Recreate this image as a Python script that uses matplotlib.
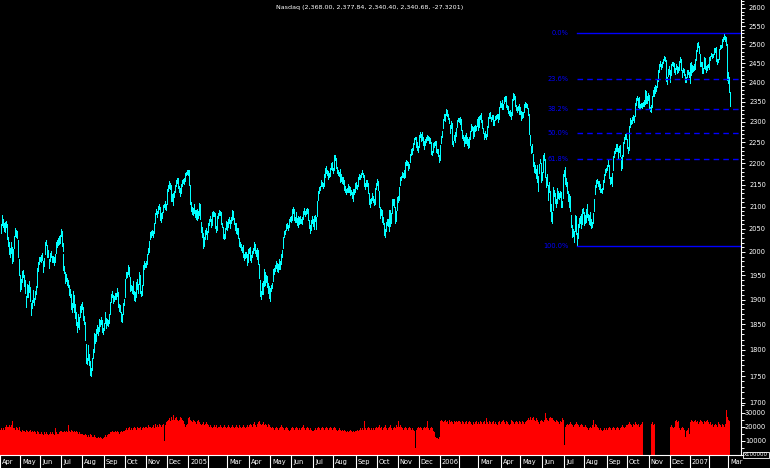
import matplotlib
matplotlib.use("Agg")
import matplotlib.pyplot as plt
import numpy as np
from matplotlib.ticker import FixedLocator, FuncFormatter, NullFormatter

plt.rcParams['font.family'] = ['DejaVu Sans']

title = "Nasdaq (2,368.00, 2,377.84, 2,340.40, 2,340.68, -27.3201)"

# one label per month of trading days (Feb is left blank next to the year)
month_labels = ['Apr', 'May', 'Jun', 'Jul', 'Aug', 'Sep', 'Oct', 'Nov', 'Dec',
                '2005', '', 'Mar', 'Apr', 'May', 'Jun', 'Jul', 'Aug', 'Sep', 'Oct', 'Nov', 'Dec',
                '2006', '', 'Mar', 'Apr', 'May', 'Jun', 'Jul', 'Aug', 'Sep', 'Oct', 'Nov', 'Dec',
                '2007', '', 'Mar']
month_lengths = [20, 20, 21, 21, 22, 21, 21, 21, 22,
                 20, 19, 22, 21, 21, 22, 20, 23, 21, 21, 21, 21,
                 20, 19, 23, 19, 22, 22, 20, 23, 20, 22, 21, 20,
                 20, 19, 2]

# daily (low, high), Apr 2004 .. Mar 2007
daily_range = [
    # Apr 2004
    (2040, 2060), (2058, 2081), (2054, 2072), (2046, 2062), (2044, 2066), (2055, 2068), (2028, 2060),
    (2012, 2032), (1996, 2022), (1988, 2008), (1998, 2022), (1977, 2010), (1980, 2006), (2008, 2035),
    (2034, 2053), (2033, 2048), (2030, 2045), (1988, 2025), (1950, 1985), (1918, 1950),
    # May
    (1922, 1942), (1936, 1960), (1946, 1962), (1928, 1950), (1914, 1940), (1885, 1908), (1905, 1933),
    (1905, 1930), (1915, 1938), (1898, 1925), (1868, 1892), (1882, 1900), (1895, 1920), (1888, 1903),
    (1902, 1918), (1912, 1928), (1925, 1965), (1960, 1978), (1975, 1990), (1980, 1990),
    # Jun
    (1978, 1993), (1982, 1998), (1958, 1980), (1970, 1986), (1995, 2022), (2014, 2026), (1988, 2015),
    (1990, 2004), (1966, 1985), (1980, 1998), (1990, 2002), (1978, 1992), (1978, 1992), (1972, 1990),
    (1978, 1996), (1998, 2022), (2010, 2025), (2015, 2030), (2016, 2035), (2020, 2037), (2035, 2050),
    # Jul
    (2012, 2045), (2002, 2020), (1962, 1995), (1955, 1970), (1934, 1958), (1938, 1952), (1930, 1944),
    (1926, 1940), (1910, 1930), (1906, 1922), (1881, 1912), (1875, 1892), (1885, 1918), (1874, 1910),
    (1862, 1890), (1848, 1875), (1835, 1855), (1845, 1870), (1840, 1865), (1865, 1886), (1874, 1890),
    # Aug
    (1880, 1895), (1858, 1884), (1850, 1866), (1820, 1855), (1775, 1812), (1772, 1784), (1780, 1809),
    (1770, 1792), (1751, 1778), (1750, 1765), (1762, 1784), (1785, 1802), (1795, 1832), (1814, 1830),
    (1818, 1840), (1832, 1848), (1828, 1845), (1836, 1861), (1847, 1858), (1850, 1864), (1835, 1858),
    (1830, 1843),
    # Sep
    (1838, 1853), (1852, 1874), (1842, 1862), (1848, 1860), (1846, 1858), (1852, 1870), (1870, 1895),
    (1896, 1912), (1905, 1917), (1894, 1910), (1898, 1908), (1902, 1913), (1902, 1914), (1908, 1924),
    (1884, 1915), (1876, 1890), (1874, 1888), (1857, 1875), (1854, 1870), (1870, 1894), (1888, 1902),
    # Oct
    (1905, 1943), (1944, 1958), (1946, 1957), (1954, 1972), (1948, 1968), (1918, 1946), (1920, 1930),
    (1914, 1928), (1912, 1938), (1900, 1918), (1898, 1916), (1905, 1937), (1921, 1942), (1914, 1933),
    (1932, 1958), (1914, 1950), (1907, 1918), (1910, 1930), (1930, 1971), (1964, 1980), (1968, 1977),
    # Nov
    (1968, 1981), (1975, 1995), (1995, 2008), (2000, 2024), (2028, 2043), (2033, 2045), (2036, 2048),
    (2033, 2046), (2042, 2062), (2062, 2086), (2083, 2095), (2077, 2090), (2085, 2101), (2094, 2105),
    (2069, 2100), (2066, 2086), (2075, 2088), (2088, 2103), (2098, 2105), (2094, 2112), (2093, 2106),
    # Dec
    (2105, 2139), (2135, 2150), (2142, 2158), (2140, 2153), (2113, 2150), (2112, 2128), (2104, 2130),
    (2122, 2136), (2132, 2150), (2148, 2161), (2154, 2165), (2143, 2165), (2134, 2148), (2124, 2142),
    (2130, 2151), (2148, 2160), (2154, 2162), (2152, 2166), (2158, 2178), (2172, 2180), (2174, 2184),
    (2173, 2184),
    # Jan 2005
    (2150, 2185), (2105, 2150), (2090, 2110), (2084, 2098), (2082, 2096), (2085, 2106), (2077, 2093),
    (2072, 2093), (2069, 2095), (2074, 2089), (2080, 2107), (2072, 2105), (2044, 2066), (2033, 2055),
    (2008, 2040), (2013, 2032), (2028, 2047), (2038, 2051), (2028, 2046), (2044, 2063),
    # Feb
    (2058, 2071), (2068, 2079), (2054, 2073), (2058, 2087), (2079, 2090), (2078, 2088), (2052, 2086),
    (2043, 2057), (2048, 2078), (2074, 2085), (2080, 2092), (2082, 2091), (2060, 2087), (2054, 2064),
    (2030, 2055), (2027, 2038), (2030, 2052), (2050, 2067), (2048, 2066),
    # Mar
    (2054, 2073), (2062, 2076), (2052, 2070), (2062, 2076), (2070, 2092), (2072, 2090), (2060, 2074),
    (2048, 2062), (2040, 2062), (2038, 2053), (2029, 2052), (2012, 2030), (2010, 2021), (2003, 2018),
    (2000, 2011), (1988, 2015), (1982, 1996), (1987, 2000), (1988, 2000), (1972, 1996), (1978, 2007),
    (1997, 2008),
    # Apr
    (1982, 2010), (1978, 1994), (1990, 2001), (1998, 2008), (2003, 2021), (1998, 2018), (1992, 2003),
    (1984, 2009), (1974, 2005), (1945, 1975), (1907, 1940), (1902, 1918), (1912, 1935), (1911, 1938),
    (1928, 1963), (1930, 1958), (1937, 1951), (1926, 1948), (1914, 1934), (1903, 1928), (1898, 1923),
    # May
    (1918, 1931), (1923, 1935), (1938, 1963), (1954, 1966), (1960, 1973), (1965, 1981), (1960, 1976),
    (1958, 1974), (1964, 1985), (1963, 1980), (1975, 1995), (1988, 2005), (2008, 2032), (2032, 2045),
    (2038, 2048), (2047, 2060), (2052, 2063), (2047, 2058), (2055, 2073), (2068, 2077), (2066, 2078),
    # Jun
    (2070, 2095), (2085, 2098), (2070, 2094), (2066, 2077), (2066, 2088), (2058, 2075), (2055, 2078),
    (2060, 2076), (2062, 2078), (2062, 2072), (2060, 2077), (2073, 2090), (2084, 2096), (2079, 2091),
    (2084, 2095), (2086, 2096), (2070, 2095), (2052, 2070), (2042, 2058), (2048, 2070), (2064, 2078),
    (2056, 2073),
    # Jul
    (2050, 2063), (2053, 2079), (2067, 2080), (2050, 2076), (2078, 2113), (2114, 2136), (2130, 2145),
    (2138, 2148), (2146, 2160), (2147, 2157), (2142, 2154), (2148, 2174), (2168, 2189), (2177, 2193),
    (2172, 2184), (2164, 2182), (2167, 2178), (2170, 2189), (2187, 2200), (2183, 2203),
    # Aug
    (2177, 2190), (2185, 2219), (2208, 2220), (2190, 2212), (2176, 2192), (2172, 2183), (2170, 2180),
    (2156, 2186), (2158, 2175), (2153, 2168), (2152, 2168), (2137, 2160), (2134, 2146), (2128, 2139),
    (2132, 2143), (2134, 2152), (2134, 2146), (2127, 2144), (2128, 2137), (2119, 2134), (2113, 2139),
    (2128, 2141), (2133, 2153),
    # Sep
    (2142, 2156), (2139, 2150), (2148, 2167), (2162, 2174), (2162, 2172), (2168, 2177), (2175, 2185),
    (2167, 2178), (2148, 2172), (2140, 2153), (2148, 2161), (2147, 2160), (2130, 2154), (2105, 2130),
    (2100, 2118), (2107, 2119), (2114, 2130), (2110, 2123), (2103, 2118), (2105, 2142), (2140, 2153),
    # Oct
    (2150, 2164), (2138, 2158), (2099, 2135), (2075, 2100), (2082, 2095), (2066, 2092), (2060, 2076),
    (2036, 2064), (2033, 2049), (2045, 2065), (2058, 2072), (2056, 2073), (2045, 2092), (2056, 2092),
    (2063, 2086), (2085, 2117), (2104, 2116), (2100, 2118), (2063, 2100), (2068, 2090), (2093, 2122),
    # Nov
    (2110, 2123), (2115, 2145), (2150, 2168), (2160, 2171), (2168, 2179), (2167, 2176), (2165, 2183),
    (2168, 2202), (2197, 2208), (2196, 2206), (2185, 2204), (2188, 2199), (2203, 2221), (2220, 2233),
    (2223, 2236), (2232, 2248), (2245, 2260), (2257, 2264), (2239, 2262), (2231, 2252), (2227, 2242),
    # Dec
    (2240, 2269), (2264, 2275), (2254, 2270), (2256, 2275), (2243, 2262), (2235, 2254), (2244, 2257),
    (2252, 2264), (2255, 2268), (2255, 2266), (2248, 2263), (2249, 2260), (2221, 2252), (2220, 2230),
    (2228, 2248), (2239, 2251), (2244, 2253), (2226, 2253), (2224, 2234), (2217, 2233), (2204, 2220),
    # Jan 2006
    (2208, 2244), (2248, 2265), (2262, 2277), (2285, 2307), (2305, 2320), (2303, 2321), (2318, 2332),
    (2314, 2330), (2308, 2320), (2298, 2310), (2272, 2292), (2285, 2303), (2247, 2298), (2242, 2254),
    (2255, 2267), (2251, 2275), (2265, 2286), (2288, 2305), (2302, 2310), (2300, 2310),
    # Feb
    (2295, 2313), (2280, 2308), (2260, 2280), (2255, 2268), (2242, 2262), (2248, 2267), (2249, 2272),
    (2243, 2262), (2237, 2258), (2240, 2263), (2258, 2277), (2278, 2295), (2280, 2290), (2260, 2287),
    (2265, 2291), (2277, 2292), (2279, 2289), (2290, 2308), (2280, 2312),
    # Mar
    (2288, 2315), (2307, 2318), (2300, 2322), (2285, 2305), (2272, 2286), (2259, 2273), (2262, 2278),
    (2258, 2270), (2265, 2290), (2288, 2312), (2310, 2323), (2309, 2325), (2302, 2313), (2307, 2317),
    (2292, 2318), (2292, 2305), (2304, 2316), (2308, 2317), (2309, 2319), (2300, 2320), (2308, 2338),
    (2338, 2352), (2337, 2348),
    # Apr
    (2333, 2355), (2333, 2346), (2347, 2362), (2353, 2366), (2337, 2365), (2332, 2343), (2323, 2340),
    (2317, 2328), (2315, 2330), (2308, 2325), (2318, 2357), (2355, 2373), (2357, 2370), (2340, 2365),
    (2330, 2343), (2325, 2338), (2329, 2340), (2320, 2346), (2321, 2338),
    # May
    (2304, 2327), (2310, 2324), (2312, 2326), (2325, 2345), (2337, 2350), (2338, 2348), (2334, 2345),
    (2318, 2336), (2271, 2320), (2243, 2268), (2225, 2242), (2227, 2245), (2194, 2222), (2180, 2202),
    (2178, 2196), (2165, 2186), (2157, 2195), (2135, 2171), (2178, 2199), (2200, 2211), (2157, 2200),
    (2160, 2180),
    # Jun
    (2180, 2220), (2208, 2225), (2168, 2210), (2145, 2167), (2150, 2175), (2115, 2150), (2134, 2157),
    (2091, 2135), (2068, 2105), (2063, 2087), (2093, 2145), (2125, 2138), (2109, 2130), (2100, 2117),
    (2108, 2143), (2120, 2135), (2117, 2130), (2122, 2135), (2099, 2132), (2098, 2112), (2120, 2175),
    (2170, 2185),
    # Jul
    (2175, 2191), (2152, 2175), (2148, 2165), (2130, 2155), (2113, 2136), (2098, 2129), (2089, 2125),
    (2054, 2080), (2033, 2058), (2035, 2049), (2022, 2046), (2045, 2081), (2039, 2078), (2013, 2042),
    (2030, 2061), (2055, 2075), (2062, 2078), (2053, 2084), (2060, 2094), (2085, 2097),
    # Aug
    (2058, 2088), (2062, 2080), (2066, 2094), (2076, 2105), (2070, 2083), (2060, 2080), (2059, 2088),
    (2053, 2073), (2054, 2066), (2064, 2086), (2090, 2116), (2128, 2150), (2145, 2160), (2153, 2164),
    (2146, 2158), (2140, 2158), (2132, 2152), (2132, 2141), (2131, 2143), (2140, 2161), (2155, 2174),
    (2172, 2187), (2180, 2189),
    # Sep
    (2184, 2195), (2193, 2207), (2166, 2196), (2152, 2167), (2154, 2167), (2146, 2176), (2185, 2217),
    (2215, 2229), (2225, 2237), (2230, 2246), (2230, 2245), (2213, 2236), (2228, 2242), (2217, 2244),
    (2183, 2215), (2188, 2219), (2218, 2250), (2248, 2263), (2258, 2271), (2257, 2273),
    # Oct
    (2236, 2258), (2224, 2240), (2232, 2291), (2288, 2310), (2296, 2305), (2298, 2313), (2305, 2317),
    (2299, 2316), (2315, 2347), (2343, 2359), (2354, 2365), (2338, 2360), (2333, 2362), (2333, 2345),
    (2337, 2348), (2335, 2348), (2339, 2349), (2341, 2354), (2346, 2380), (2348, 2378), (2348, 2366),
    (2355, 2372),
    # Nov
    (2332, 2368), (2328, 2338), (2325, 2342), (2338, 2366), (2364, 2380), (2365, 2388), (2374, 2392),
    (2378, 2391), (2388, 2407), (2403, 2431), (2428, 2448), (2442, 2456), (2435, 2449), (2440, 2454),
    (2450, 2461), (2458, 2468), (2456, 2466), (2404, 2458), (2395, 2414), (2416, 2434), (2423, 2442),
    # Dec
    (2400, 2432), (2420, 2449), (2444, 2454), (2442, 2452), (2426, 2450), (2422, 2438), (2435, 2448),
    (2424, 2443), (2427, 2440), (2433, 2457), (2452, 2467), (2432, 2460), (2415, 2433), (2427, 2438),
    (2420, 2434), (2400, 2422), (2400, 2414), (2414, 2432), (2423, 2431), (2415, 2428),
    # Jan 2007
    (2398, 2450), (2420, 2454), (2428, 2444), (2430, 2442), (2432, 2448), (2435, 2460), (2458, 2485),
    (2482, 2503), (2494, 2506), (2478, 2495), (2442, 2474), (2442, 2454), (2424, 2454), (2424, 2438),
    (2438, 2467), (2434, 2465), (2428, 2443), (2432, 2445), (2440, 2449), (2436, 2466),
    # Feb
    (2458, 2469), (2468, 2477), (2465, 2475), (2466, 2474), (2474, 2491), (2479, 2490), (2457, 2494),
    (2448, 2460), (2452, 2461), (2460, 2489), (2488, 2499), (2490, 2499), (2494, 2515), (2510, 2521),
    (2514, 2531), (2510, 2523), (2498, 2520), (2405, 2500), (2398, 2428),
    # Mar
    (2375, 2413), (2340, 2376),
]

# daily volume in thousands of chart units (chart units are x100000 shares)
volume_k = [
    18, 19, 18, 19, 18, 20, 21, 20, 20, 21, 20, 21, 24, 19, 19, 18, 20, 19, 18, 20,
    17, 16, 18, 17, 17, 16, 18, 17, 16, 17, 18, 16, 17, 16, 17, 16, 15, 17, 16, 15,
    15, 16, 15, 14, 16, 15, 16, 15, 14, 15, 16, 15, 16, 15, 14, 19, 16, 15, 15, 16, 17,
    17, 16, 16, 17, 16, 17, 16, 21, 17, 16, 18, 17, 16, 17, 16, 17, 16, 15, 16, 15, 15,
    15, 14, 14, 15, 14, 13, 14, 13, 15, 14, 13, 13, 14, 13, 12, 12, 13, 12, 13, 12, 11, 12,
    13, 14, 13, 14, 15, 15, 16, 16, 17, 16, 16, 17, 16, 17, 16, 15, 16, 17, 16, 17, 17,
    18, 19, 18, 19, 20, 18, 19, 18, 19, 20, 19, 18, 20, 19, 19, 20, 18, 19, 20, 19, 20,
    20, 19, 21, 20, 20, 19, 20, 21, 19, 22, 20, 21, 20, 22, 21, 20, 21, 22, 10, 21, 23,
    24, 25, 26, 24, 27, 25, 28, 25, 26, 27, 25, 24, 25, 27, 26, 25, 24, 22, 20, 21, 22, 20,
    26, 27, 25, 24, 23, 25, 24, 23, 22, 24, 25, 23, 22, 21, 22, 23, 21, 22, 23, 22,
    21, 20, 21, 20, 19, 20, 21, 20, 21, 19, 20, 20, 21, 20, 19, 20, 21, 20, 19,
    20, 21, 20, 19, 20, 21, 20, 19, 20, 21, 20, 19, 21, 20, 19, 20, 21, 20, 19, 20, 21, 20,
    21, 22, 21, 20, 22, 23, 21, 20, 22, 23, 24, 22, 21, 22, 23, 21, 22, 21, 20, 22, 21,
    20, 19, 20, 19, 18, 19, 20, 19, 18, 19, 20, 21, 20, 19, 18, 19, 20, 19, 18, 17, 18,
    19, 20, 19, 18, 19, 20, 19, 18, 19, 18, 19, 20, 21, 19, 18, 19, 20, 19, 18, 19, 18, 17,
    17, 18, 19, 18, 19, 20, 19, 18, 19, 20, 19, 18, 19, 20, 19, 18, 19, 20, 19, 18,
    19, 20, 19, 18, 17, 18, 19, 18, 17, 18, 17, 18, 17, 16, 17, 16, 17, 18, 17, 16, 17, 16, 17,
    17, 18, 17, 18, 19, 18, 19, 18, 24, 19, 18, 19, 20, 19, 18, 19, 18, 19, 18, 19, 20,
    19, 20, 21, 19, 20, 18, 19, 20, 21, 19, 18, 19, 20, 21, 19, 18, 19, 20, 19, 21, 20,
    24, 20, 21, 20, 19, 18, 19, 20, 19, 18, 19, 20, 19, 18, 19, 18, 17, 5, 18, 19, 20,
    19, 20, 19, 18, 19, 20, 19, 20, 24, 19, 18, 19, 20, 19, 17, 16, 13, 12, 12, 11, 13,
    22, 24, 25, 24, 23, 24, 25, 23, 24, 22, 25, 23, 24, 23, 22, 24, 23, 24, 23, 24,
    24, 23, 22, 24, 23, 22, 23, 24, 22, 23, 24, 23, 22, 21, 23, 22, 23, 24, 22,
    23, 22, 24, 23, 22, 23, 24, 22, 26, 23, 22, 24, 23, 22, 23, 24, 22, 23, 22, 21, 23, 24, 22,
    23, 24, 25, 23, 22, 24, 23, 22, 21, 22, 25, 24, 23, 22, 23, 24, 23, 22, 24,
    23, 22, 24, 23, 22, 23, 24, 25, 26, 25, 27, 25, 26, 27, 25, 24, 26, 25, 23, 22, 24, 25,
    24, 23, 25, 30, 26, 25, 24, 26, 27, 26, 26, 25, 24, 23, 25, 24, 23, 22, 24, 23, 26, 25,
    7, 20, 21, 22, 21, 22, 23, 22, 21, 20, 21, 22, 23, 22, 21, 20, 21, 22, 21, 20,
    20, 21, 20, 19, 18, 19, 20, 19, 21, 25, 20, 22, 21, 20, 19, 18, 19, 18, 17, 18, 19, 18, 19,
    18, 19, 20, 19, 18, 19, 20, 19, 18, 19, 20, 19, 18, 19, 20, 21, 20, 19, 20, 21,
    21, 22, 23, 22, 21, 20, 22, 21, 23, 22, 21, 22, 20, 21, 22, 23, 0, 0, 0, 0, 0, 0,
    0, 0, 22, 23, 21, 22, 0, 0, 0, 0, 0, 0, 0, 0, 0, 0, 0, 0, 0, 0, 0,
    20, 21, 20, 19, 20, 24, 25, 23, 24, 19, 18, 19, 20, 19, 18, 13, 17, 18, 19, 15,
    23, 24, 25, 24, 23, 24, 25, 23, 24, 22, 23, 25, 24, 23, 22, 24, 23, 24, 25, 23,
    22, 23, 21, 22, 20, 21, 22, 21, 20, 23, 22, 21, 20, 22, 21, 20, 22, 32, 27,
    25, 24,
]

fib_high = 2531.4
fib_low = 2012.8
fib_ratios = [0.0, 0.236, 0.382, 0.5, 0.618, 1.0]
fib_labels = ['0.0%', '23.6%', '38.2%', '50.0%', '61.8%', '100.0%']

price_ticks = list(range(1700, 2601, 50))
price_minor = list(range(1700, 2621, 10))
volume_ticks = [10000, 20000, 30000]

lo = np.array([r[0] for r in daily_range])
hi = np.array([r[1] for r in daily_range])
vol = np.array(volume_k) * 1000
days = np.arange(len(daily_range))
assert len(days) == len(vol) == sum(month_lengths), (len(days), len(vol), sum(month_lengths))

W, H = 770, 468
CYAN = '#00ffff'
FIB = '#0000ff'
FS = 4.8

fig = plt.figure(figsize=(W / 100, H / 100), dpi=100, facecolor='black')

def box(x0, y0, x1, y1):
    # pixel box -> figure fraction
    return [x0 / W, 1 - y1 / H, (x1 - x0) / W, (y1 - y0) / H]

axp = fig.add_axes(box(0, 0, 741, 404))
axv = fig.add_axes(box(0, 404, 741, 455), sharex=axp)
for ax in (axp, axv):
    ax.set_facecolor('black')
    for side in ('top', 'left', 'bottom'):
        ax.spines[side].set_visible(False)
    ax.spines['right'].set_color('white')
    ax.spines['right'].set_linewidth(0.8)
    ax.yaxis.tick_right()
    ax.tick_params(axis='x', which='both', bottom=False, labelbottom=False)
    # labels right-aligned near the figure edge
    ax.tick_params(axis='y', which='major', direction='out', length=3, width=0.7,
                   colors='white', labelsize=FS, pad=15)
    ax.tick_params(axis='y', which='minor', direction='out', length=1.8, width=0.7,
                   colors='white')
axv.spines['bottom'].set_visible(True)
axv.spines['bottom'].set_color('white')
axv.spines['bottom'].set_linewidth(0.8)

axp.set_xlim(-0.75, 743.2)

# price pane (log scale)
axp.set_yscale('log')
axp.set_ylim(1698.1, 2622.4)
axp.yaxis.set_major_locator(FixedLocator(price_ticks))
axp.yaxis.set_minor_locator(FixedLocator(price_minor))
axp.yaxis.set_major_formatter(FuncFormatter(lambda v, p: '%d' % round(v)))
axp.yaxis.set_minor_formatter(NullFormatter())
axp.vlines(days, lo, hi, colors=CYAN, linewidth=0.72, antialiased=False)

# fibonacci retracement from the July 2006 low to the February 2007 high
recent = days >= len(days) - 200
start = days[recent][np.argmin(lo[recent])]
right = axp.get_xlim()[1]
for r, lab in zip(fib_ratios, fib_labels):
    level = fib_high - r * (fib_high - fib_low)
    ls = '-' if r in (0.0, 1.0) else (0, (4, 3))
    axp.plot([start, right], [level, level], color=FIB, lw=1.0, ls=ls)
    axp.annotate(lab, (start, level), xytext=(-6.5, 0), textcoords='offset points',
                 ha='right', va='center', color=FIB, fontsize=FS)

# volume pane
axv.set_ylim(0, 36000)
axv.yaxis.set_major_locator(FixedLocator(volume_ticks))
axv.yaxis.set_minor_locator(FixedLocator(list(range(0, 36001, 5000))))
axv.yaxis.set_major_formatter(FuncFormatter(lambda v, p: '%d' % v))
axv.bar(days, vol, width=1.0, color='#ff0000', linewidth=0, antialiased=False)

for ax in (axp, axv):
    plt.setp(ax.yaxis.get_majorticklabels(), ha='right')

# month boxes under the volume pane
trans = axv.get_xaxis_transform()
starts = np.concatenate([[0], np.cumsum(month_lengths)[:-1]])
for s, lab in zip(starts, month_labels):
    axv.plot([s - 0.5, s - 0.5], [-0.02, -0.3], transform=trans, color='white',
             lw=0.8, clip_on=False)
    if lab:
        axv.annotate(lab, (s - 0.5, -0.14), xycoords=trans, xytext=(1.5, 0),
                     textcoords='offset points', ha='left', va='center',
                     color='white', fontsize=FS)

fig.text(744 / W, 1 - 455 / H, 'x100000', color='white', fontsize=3.9, ha='left',
         va='center', bbox=dict(facecolor='black', edgecolor='white', lw=0.6, pad=0.5))
fig.text(370 / W, 1 - 7 / H, title, color='white', fontsize=4.6, ha='center', va='center')

fig.savefig('out.png', dpi=100, facecolor='black')
